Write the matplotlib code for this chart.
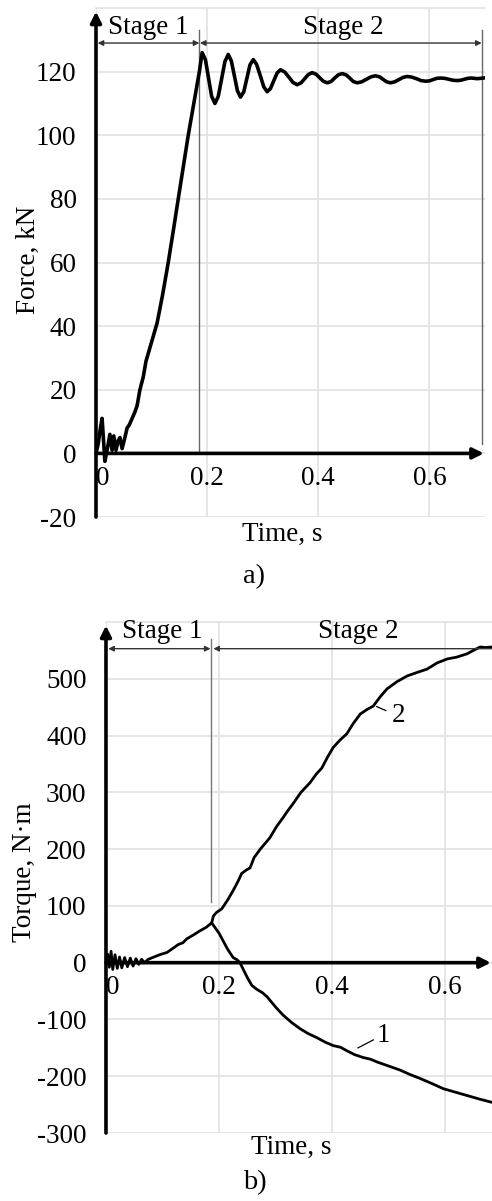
"""Force and torque versus time, two stacked panels a) and b)."""
import matplotlib
matplotlib.use("Agg")
import matplotlib.pyplot as plt

# panel a) force, kN
force_t = [0, 0.004, 0.008, 0.011, 0.016, 0.020, 0.025, 0.029, 0.032, 0.036, 0.040,
           0.043, 0.047, 0.052, 0.056, 0.060, 0.065, 0.070, 0.074, 0.079, 0.085, 0.090,
           0.100, 0.110, 0.120, 0.130, 0.140, 0.148, 0.157, 0.166, 0.176, 0.186, 0.191,
           0.197, 0.2025, 0.208, 0.214, 0.220, 0.226, 0.232, 0.238, 0.2435, 0.249, 0.2545,
           0.260, 0.266, 0.2715, 0.277, 0.283, 0.289, 0.2955, 0.302, 0.308, 0.314, 0.320,
           0.326, 0.332, 0.3395, 0.347, 0.3545, 0.362, 0.369, 0.3755, 0.382, 0.389, 0.396,
           0.4025, 0.409, 0.416, 0.423, 0.4295, 0.436, 0.443, 0.450, 0.4565, 0.463, 0.470,
           0.478, 0.4865, 0.495, 0.503, 0.510, 0.5165, 0.523, 0.530, 0.5375, 0.545, 0.5525,
           0.560, 0.568, 0.5765, 0.585, 0.593, 0.600, 0.6065, 0.613, 0.620, 0.6275, 0.635,
           0.6425, 0.650, 0.656, 0.6625, 0.669, 0.675, 0.686, 0.697]
force_kn = [0, 3, 8, 11, -2.5, 1, 6, 1, 5.5, 1, 4,
            5, 1.5, 5, 8, 9, 11, 13, 15, 20, 24, 29,
            35, 41, 50, 60, 71, 80, 90, 100, 110, 120, 126,
            123.7, 118, 112.3, 110, 112.2, 117.7, 123.2, 125.4, 123.4, 118.7, 114,
            112, 113.7, 117.9, 122.1, 123.8, 122.3, 118.8, 115.2, 113.7, 114.7, 117.2,
            119.6, 120.6, 119.9, 118.3, 116.6, 115.9, 116.5, 117.8, 119.1, 119.7, 119.2,
            118.1, 117, 116.5, 116.9, 118, 119, 119.4, 119, 118, 116.9, 116.5,
            116.8, 117.6, 118.4, 118.7, 118.4, 117.6, 116.8, 116.5, 116.8, 117.5, 118.2,
            118.5, 118.3, 117.8, 117.2, 117, 117.1, 117.5, 117.9, 118, 117.9, 117.6,
            117.3, 117.2, 117.3, 117.6, 117.9, 118, 117.8, 118]
force_ticks = [-20, 0, 20, 40, 60, 80, 100, 120]

# panel b) torque, N·m  (2 - rising curve, 1 - branch going negative)
torque2_t = [0, 0.003, 0.006, 0.009, 0.012, 0.016, 0.020, 0.024, 0.028, 0.033, 0.038,
             0.043, 0.048, 0.053, 0.058, 0.063, 0.068, 0.075, 0.085, 0.095, 0.108, 0.118,
             0.128, 0.136, 0.143, 0.155, 0.166, 0.177, 0.187, 0.190, 0.195, 0.205, 0.215,
             0.225, 0.234, 0.240, 0.248, 0.255, 0.262, 0.273, 0.290, 0.302, 0.313, 0.322,
             0.331, 0.345, 0.361, 0.372, 0.382, 0.392, 0.402, 0.414, 0.426, 0.438, 0.450,
             0.462, 0.473, 0.485, 0.497, 0.515, 0.533, 0.550, 0.568, 0.586, 0.604, 0.620,
             0.639, 0.652, 0.662, 0.672, 0.683, 0.700]
torque2 = [0, 15, -8, 20, -12, 14, -10, 10, -9, 9, -7,
           8, -6, 7, -3, 6, 0, 6, 10, 14, 18, 25,
           32, 35, 42, 49, 56, 62, 70, 82, 88, 95, 110,
           127, 144, 157, 163, 167, 185, 200, 220, 240, 255, 268,
           280, 300, 317, 332, 343, 362, 379, 392, 403, 422, 438,
           446, 452, 468, 482, 495, 505, 511, 517, 528, 535, 538,
           544, 551, 556, 555, 556, 558]
torque1_t = [0.187, 0.190, 0.200, 0.207, 0.215, 0.225, 0.232, 0.237, 0.243, 0.250, 0.258,
             0.267, 0.277, 0.285, 0.300, 0.313, 0.328, 0.343, 0.358, 0.373, 0.388, 0.402,
             0.415, 0.426, 0.440, 0.455, 0.468, 0.480, 0.500, 0.520, 0.538, 0.556, 0.577,
             0.597, 0.618, 0.639, 0.660, 0.683, 0.700]
torque1 = [70, 66, 52, 39, 24, 9, 5, 0, -12, -26, -40,
           -47, -53, -60, -78, -92, -105, -116, -125, -132, -140, -146,
           -149, -155, -162, -167, -170, -175, -182, -189, -197, -204, -213,
           -222, -228, -234, -240, -246, -250]
torque_ticks = [-300, -200, -100, 0, 100, 200, 300, 400, 500]

time_ticks = [0, 0.2, 0.4, 0.6]
time_labels = ["0", "0.2", "0.4", "0.6"]
stage_split = 0.186

FS = 19.5
plt.rcParams["font.family"] = ["Liberation Serif", "DejaVu Serif"]
GRID = "#e2e2e2"
ARROW = "#333333"

fig = plt.figure(figsize=(4.92, 12.01), dpi=100)


def base_axes(rect, xmax, ymin, ymax, yticks, lw):
    ax = fig.add_axes(rect)
    ax.set_xlim(0, xmax); ax.set_ylim(ymin, ymax)
    for s in ("left", "right", "bottom"):
        ax.spines[s].set_visible(False)
    ax.spines["bottom"].set_position(("data", 0))     # tick labels sit under y=0
    ax.spines["top"].set_color(GRID); ax.spines["top"].set_linewidth(1.2)
    ax.set_xticks(time_ticks)
    ax.set_xticklabels(time_labels, fontsize=FS)
    ax.get_xticklabels()[0].set_ha("left")
    ax.set_yticks(yticks)
    ax.set_yticklabels([str(v) for v in yticks], fontsize=FS)
    ax.tick_params(length=0, axis="y", pad=14)
    ax.tick_params(length=0, axis="x", pad=9)
    ax.grid(color=GRID, lw=1.2, zorder=0)
    ax.set_axisbelow(True)
    # axes drawn as arrows
    ax.annotate("", xy=(0, ymax - (ymax - ymin) * 0.007), xytext=(0, ymin),
                arrowprops=dict(arrowstyle="-|>", color="k", lw=lw, mutation_scale=16,
                                shrinkA=0, shrinkB=0), annotation_clip=False, zorder=5)
    ax.annotate("", xy=(xmax * 0.997, 0), xytext=(0, 0),
                arrowprops=dict(arrowstyle="-|>", color="k", lw=lw, mutation_scale=16,
                                shrinkA=0, shrinkB=0), annotation_clip=False, zorder=5)
    return ax


def stage_arrow(ax, x0, x1, y):
    ax.annotate("", xy=(x1, y), xytext=(x0, y),
                arrowprops=dict(arrowstyle="<|-|>", color=ARROW, lw=1.0, mutation_scale=8,
                                shrinkA=0, shrinkB=0), annotation_clip=False, zorder=4)


# a)
ax1 = base_axes([0.1951, 0.5695, 0.7907, 0.4238], 0.70, -20, 140, force_ticks, 2.6)
ax1.plot(force_t, force_kn, color="k", lw=2.6, zorder=3, solid_joinstyle="round")
ax1.plot([stage_split, stage_split], [0, 133], color="#666666", lw=1.0, zorder=2)
ax1.plot([0.695, 0.695], [3, 133], color="#666666", lw=1.0, zorder=2)
stage_arrow(ax1, 0.003, stage_split, 129)
stage_arrow(ax1, stage_split + 0.001, 0.694, 129)
ax1.text(0.094, 134, "Stage 1", fontsize=FS, ha="center", va="center")
ax1.text(0.445, 134, "Stage 2", fontsize=FS, ha="center", va="center")
ax1.set_ylabel("Force, kN", fontsize=FS, va="center")
ax1.yaxis.set_label_coords(-0.175, 0.505)
ax1.set_xlabel("Time, s", fontsize=FS)
ax1.xaxis.set_label_coords(0.478, -0.035)
ax1.xaxis.label.set_va("center")
fig.text(254 / 492, 1 - 577 / 1201, "a)", fontsize=FS + 1, ha="center", va="center")

# b)
ax2 = base_axes([0.2154, 0.0566, 0.7846, 0.4255], 0.683, -300, 600, torque_ticks, 2.6)
ax2.plot(torque2_t, torque2, color="k", lw=2.0, zorder=3, solid_joinstyle="round")
ax2.plot(torque1_t, torque1, color="k", lw=2.0, zorder=3, solid_joinstyle="round")
ax2.plot([stage_split, stage_split], [106, 570], color="#777777", lw=1.0, zorder=2)
stage_arrow(ax2, 0.004, stage_split - 0.001, 553)
stage_arrow(ax2, stage_split + 0.004, 0.70, 553)
ax2.text(0.099, 583, "Stage 1", fontsize=FS, ha="center", va="center")
ax2.text(0.446, 583, "Stage 2", fontsize=FS, ha="center", va="center")
ax2.plot([0.479, 0.495], [451, 444], color="k", lw=0.9, zorder=3)
ax2.text(0.517, 435, "2", fontsize=FS, ha="center", va="center")
ax2.plot([0.446, 0.473], [-150, -136], color="k", lw=0.9, zorder=3)
ax2.text(0.49, -128, "1", fontsize=FS, ha="center", va="center")
ax2.set_ylabel("Torque, N·m", fontsize=FS, va="center")
ax2.yaxis.set_label_coords(-0.21, 0.51)
ax2.set_xlabel("Time, s", fontsize=FS)
ax2.xaxis.set_label_coords(0.48, -0.029)
ax2.xaxis.label.set_va("center")
fig.text(255 / 492, 1 - 1183 / 1201, "b)", fontsize=FS + 1, ha="center", va="center")

fig.savefig("out.png", dpi=100)
